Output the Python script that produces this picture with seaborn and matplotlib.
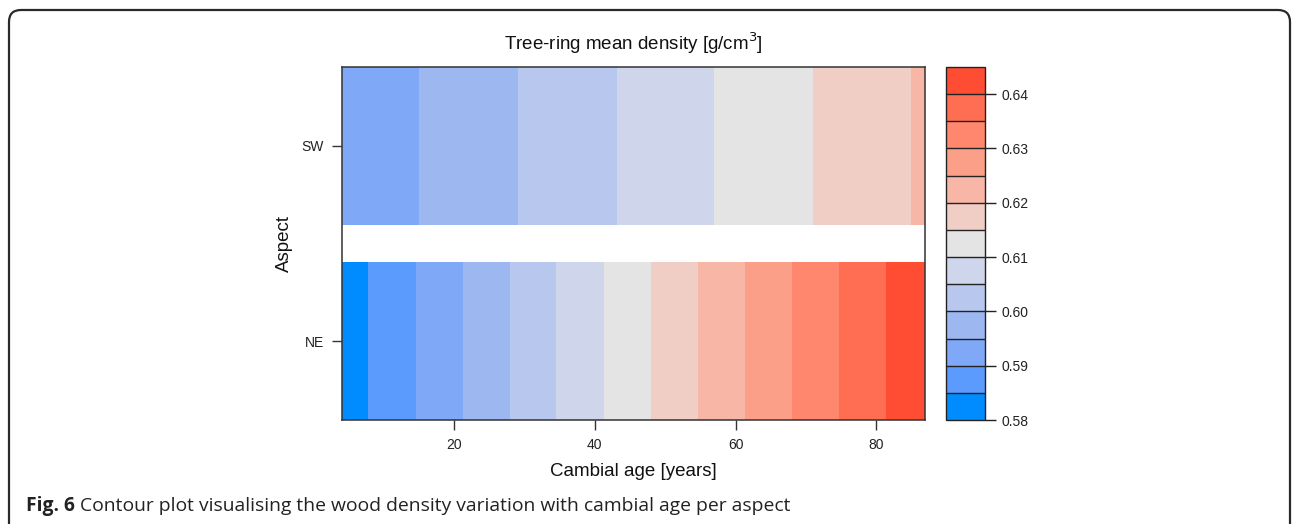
import numpy as np
import pandas as pd
import matplotlib
matplotlib.use("Agg")
import matplotlib.pyplot as plt
import seaborn as sns
from matplotlib.colors import ListedColormap, BoundaryNorm
from matplotlib.cm import ScalarMappable
from matplotlib.patches import FancyBboxPatch

# ---------------- data ----------------
aspects = ["NE", "SW"]
# contour levels (lower edge of each colour band)
levels = [0.580, 0.585, 0.590, 0.595, 0.600, 0.605, 0.610,
          0.615, 0.620, 0.625, 0.630, 0.635, 0.640]
level_top = 0.645
level_colors = ["#008CFF", "#5B9BFD", "#7FA8F7", "#9DB8F1", "#B8C7EE",
                "#CFD5EA", "#E4E4E4", "#F0CEC6", "#F8B7A6", "#FC9F88",
                "#FF876D", "#FF6E52", "#FF4D33"]
# cambial ages where the density crosses each contour level
ne_breaks = [7.75, 14.55, 21.25, 27.9, 34.55, 41.25, 48.05, 54.65,
             61.35, 68.0, 74.7, 81.4]
ne_levels = levels  # 0.580 ... 0.640
sw_breaks = [15.1, 29.15, 43.15, 57.0, 71.0, 84.9]
sw_levels = [0.590, 0.595, 0.600, 0.605, 0.610, 0.615, 0.620]
age_min, age_max = 4.1, 86.9
x_ticks = [20, 40, 60, 80]
cbar_ticks = [0.58, 0.59, 0.60, 0.61, 0.62, 0.63, 0.64]

# ---------------- build long table ----------------
rows = []
for code, (brks, lvls) in enumerate([(ne_breaks, ne_levels), (sw_breaks, sw_levels)]):
    edges = [0.0] + list(brks) + [age_max]
    widths = np.diff(edges)
    for lv, w in zip(lvls, widths):
        rows.append({"aspect": code, "level": f"{lv:.3f}", "width": w})
df = pd.DataFrame(rows)
level_names = [f"{lv:.3f}" for lv in levels]
palette = dict(zip(level_names, level_colors))
# seaborn stacks the last hue level at the baseline -> reverse
hue_order = level_names[::-1]

# ---------------- figure ----------------
sns.set_theme(style="white")
plt.rcParams["font.family"] = ["Liberation Sans", "DejaVu Sans"]

W, H = 1292, 524
fig = plt.figure(figsize=(W / 100, H / 100), dpi=100)
ax = fig.add_axes([342 / W, 1 - 420 / H, (925 - 342) / W, (420 - 67) / H])
cax = fig.add_axes([946 / W, 1 - 420 / H, (985 - 946) / W, (420 - 67) / H])

sns.histplot(data=df, y="aspect", weights="width", hue="level",
             hue_order=hue_order, palette=palette, multiple="stack",
             discrete=True, shrink=0.806, linewidth=0, alpha=1,
             legend=False, ax=ax)

ax.set_xlim(age_min, age_max)
ax.set_ylim(-0.403, 1.403)
ax.set_xticks(x_ticks)
ax.set_xticklabels([str(t) for t in x_ticks])
ax.set_yticks([0, 1])
ax.set_yticklabels(aspects)
ax.tick_params(axis="both", which="both", direction="out", length=7,
               width=1, color="#333333", labelsize=10, labelcolor="#222222",
               bottom=True, left=True, pad=6)
for s in ax.spines.values():
    s.set_visible(True)
    s.set_color("#333333")
    s.set_linewidth(1.1)
ax.set_xlabel("Cambial age [years]", fontsize=13.5, color="#111111", labelpad=8)
ax.set_ylabel("Aspect", fontsize=13.5, color="#111111", labelpad=6)
ax.set_title("Tree-ring mean density [g/cm$^3$]", fontsize=13.5, color="#111111", pad=12)

# colour key
bounds = levels + [level_top]
cmap = ListedColormap(level_colors)
norm = BoundaryNorm(bounds, cmap.N)
cb = fig.colorbar(ScalarMappable(norm=norm, cmap=cmap), cax=cax,
                  drawedges=True, ticks=cbar_ticks)
cb.ax.minorticks_off()
cb.ax.set_yticks(cbar_ticks)
cb.ax.set_yticks([], minor=True)
cb.ax.set_yticklabels([f"{t:.2f}" for t in cbar_ticks])
cb.outline.set_edgecolor("#222222")
cb.outline.set_linewidth(1.0)
cb.dividers.set_color("#222222")
cb.dividers.set_linewidth(1.0)
cb.ax.tick_params(which="major", direction="out", length=8, width=1, color="#222222",
                  labelsize=10, labelcolor="#222222", pad=4, right=True)

# rounded frame
frame = FancyBboxPatch((9 / 100, -0.6), (1290 - 9) / 100, (H - 10) / 100 + 0.6,
                       boxstyle="round,pad=0,rounding_size=0.12",
                       transform=fig.dpi_scale_trans, fill=False,
                       edgecolor="#2a2a2a", linewidth=1.6, clip_on=False)
fig.patches.append(frame)

# caption
fig.canvas.draw()
t1 = fig.text(26 / W, 1 - 506 / H, "Fig. 6", fontsize=13.9, fontweight="bold",
              family=["Open Sans", "DejaVu Sans"], color="#222222", va="center")
fig.canvas.draw()
bb = t1.get_window_extent()
fig.text((bb.x1 + 5) / W, 1 - 506 / H,
         "Contour plot visualising the wood density variation with cambial age per aspect",
         fontsize=13.9, family=["Open Sans", "DejaVu Sans"], color="#222222",
         va="center")

fig.savefig("out.png", dpi=100)
